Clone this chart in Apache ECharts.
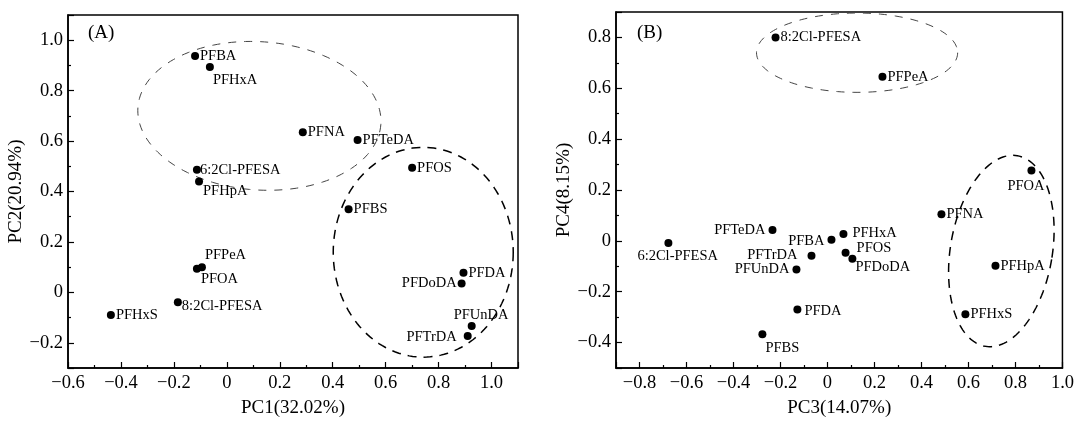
<!DOCTYPE html>
<html>
<head>
<meta charset="utf-8">
<script src="https://cdn.jsdelivr.net/npm/echarts@6/dist/echarts.min.js"></script>
<style>
  html, body { margin: 0; padding: 0; background: #fff; }
  #chart { width: 1077px; height: 423px; }
</style>
</head>
<body>
<div id="chart"></div>
<script>
// panel A: PC1 vs PC2
const namesA = ['PFBA', 'PFHxA', '6:2Cl-PFESA', 'PFHpA', 'PFNA', 'PFTeDA', 'PFOS', 'PFBS',
  'PFDA', 'PFDoDA', 'PFUnDA', 'PFTrDA', 'PFPeA', 'PFOA', '8:2Cl-PFESA', 'PFHxS'];
const pc1 = [-0.12, -0.064, -0.113, -0.105, 0.287, 0.494, 0.70, 0.46,
  0.894, 0.887, 0.925, 0.91, -0.094, -0.113, -0.185, -0.438];
const pc2 = [0.937, 0.894, 0.486, 0.44, 0.635, 0.604, 0.494, 0.33,
  0.078, 0.035, -0.133, -0.173, 0.10, 0.094, -0.039, -0.09];

// panel B: PC3 vs PC4
const namesB = ['8:2Cl-PFESA', 'PFPeA', 'PFOA', 'PFNA', 'PFHpA', 'PFHxS', 'PFHxA', 'PFBA',
  'PFOS', 'PFDoDA', 'PFTrDA', 'PFTeDA', 'PFUnDA', 'PFDA', 'PFBS', '6:2Cl-PFESA'];
const pc3 = [-0.221, 0.234, 0.868, 0.485, 0.715, 0.587, 0.068, 0.017,
  0.077, 0.106, -0.068, -0.234, -0.132, -0.128, -0.277, -0.677];
const pc4 = [0.80, 0.645, 0.277, 0.105, -0.098, -0.289, 0.027, 0.004,
  -0.047, -0.07, -0.059, 0.043, -0.113, -0.27, -0.367, -0.008];

// group ellipses: [cx, cy, rx, ry, tilt deg]
const groupsA = [[0.123, 0.70, 0.46, 0.294, 4], [0.742, 0.159, 0.34, 0.416, 0]];
const groupsB = [[0.126, 0.74, 0.428, 0.156, 0], [0.74, -0.04, 0.217, 0.38, 9.5]];

// label placement: [position, dx, dy]
const labelPosA = {
  'PFBA': ['right', 0, 0], 'PFHxA': ['right', -2, 13], '6:2Cl-PFESA': ['right', -2, 0],
  'PFHpA': ['right', -1, 10], 'PFNA': ['right', 0, 0], 'PFTeDA': ['right', 0, 0],
  'PFOS': ['right', 0, 0], 'PFBS': ['right', 0, 0], 'PFDA': ['right', 0, 0],
  'PFDoDA': ['left', 0, 0], 'PFUnDA': ['right', -23, -11], 'PFTrDA': ['left', -6, 1],
  'PFPeA': ['right', -2, -12], 'PFOA': ['right', -1, 11], '8:2Cl-PFESA': ['right', -1, 4],
  'PFHxS': ['right', 0, 0]
};
const labelPosB = {
  '8:2Cl-PFESA': ['right', 0, 0], 'PFPeA': ['right', 0, 0], 'PFOA': ['right', -29, 16],
  'PFNA': ['right', 0, 0], 'PFHpA': ['right', 0, 0], 'PFHxS': ['right', 0, 0],
  'PFHxA': ['right', 4, -1], 'PFBA': ['left', -2, 1], 'PFOS': ['right', 6, -5],
  'PFDoDA': ['right', -2, 9], 'PFTrDA': ['left', -9, -1], 'PFTeDA': ['left', -2, 0],
  'PFUnDA': ['left', -2, 0], 'PFDA': ['right', 2, 2], 'PFBS': ['right', -2, 14],
  '6:2Cl-PFESA': ['right', -36, 13]
};

const FONT = 'Liberation Serif, Times New Roman, serif';

function fmtTick(v) {
  if (Math.abs(v * 5 - Math.round(v * 5)) > 1e-6) return '';
  if (Math.abs(v) < 1e-9) return '0';
  return (v < 0 ? '\u2212' : '') + Math.abs(v).toFixed(1);
}

function axis(grid, min, max, opts, name, nameGap, isY) {
  return Object.assign({
    type: 'value', gridIndex: grid, min: min, max: max,
    name: name, nameLocation: 'middle', nameGap: nameGap,
    nameTextStyle: { fontFamily: FONT, fontSize: 19, color: '#000' },
    axisLine: { show: true, onZero: false, lineStyle: { color: '#000', width: 1.5 } },
    axisTick: { show: true, inside: true, length: 6, lineStyle: { color: '#000', width: 1.2 } },
    minorTick: { show: true, splitNumber: 2, length: 3, lineStyle: { color: '#000', width: 1.2 } },
    splitLine: { show: false },
    axisLabel: { formatter: fmtTick, fontFamily: FONT, fontSize: 18.5, color: '#000', margin: isY ? 5 : 6 }
  }, opts);
}

function points(names, xs, ys, pos) {
  return xs.map((x, i) => {
    const p = pos[names[i]];
    return { name: names[i], value: [x, ys[i]], label: { position: p[0], offset: [p[1], p[2]] } };
  });
}

function scatter(idx, data) {
  return {
    type: 'scatter', xAxisIndex: idx, yAxisIndex: idx, data: data,
    symbolSize: 8, itemStyle: { color: '#000', opacity: 1 },
    label: { show: true, formatter: '{b}', distance: 1, fontFamily: FONT, fontSize: 14.5, color: '#000' },
    z: 3
  };
}

function ellipse(idx, row, stroke, width, dash) {
  return {
    type: 'custom', xAxisIndex: idx, yAxisIndex: idx, silent: true,
    data: [row], encode: { x: 0, y: 1 },
    renderItem: function (params, api) {
      const c = api.coord([api.value(0), api.value(1)]);
      const s = api.size([api.value(2), api.value(3)], [api.value(0), api.value(1)]);
      const a = api.value(4) * Math.PI / 180;
      const pts = [];
      for (let k = 0; k < 160; k++) {
        const t = k / 160 * Math.PI * 2;
        const ex = s[0] * Math.cos(t), ey = s[1] * Math.sin(t);
        pts.push([c[0] + ex * Math.cos(a) - ey * Math.sin(a), c[1] + ex * Math.sin(a) + ey * Math.cos(a)]);
      }
      return {
        type: 'polygon', shape: { points: pts },
        style: { fill: 'none', stroke: stroke, lineWidth: width, lineDash: dash }
      };
    }
  };
}

const chart = echarts.init(document.getElementById('chart'));
chart.setOption({
  animation: false,
  backgroundColor: '#fff',
  grid: [
    { left: 68, top: 15, width: 450, height: 357, show: true, borderColor: '#000', borderWidth: 1.5 },
    { left: 616, top: 12, width: 449, height: 359, show: true, borderColor: '#000', borderWidth: 1.5 }
  ],
  xAxis: [
    axis(0, -0.6, 1.1, { interval: 0.2 }, 'PC1(32.02%)', 31, false),
    axis(1, -0.9, 1.0, { splitNumber: 9 }, 'PC3(14.07%)', 31, false)
  ],
  yAxis: [
    axis(0, -0.3, 1.1, { splitNumber: 7 }, 'PC2(20.94%)', 42, true),
    axis(1, -0.5, 0.9, { splitNumber: 7 }, 'PC4(8.15%)', 40, true)
  ],
  graphic: [
    { type: 'text', left: 88, top: 24, style: { text: '(A)', fontFamily: FONT, fontSize: 19, fill: '#000' } },
    { type: 'text', left: 637, top: 24, style: { text: '(B)', fontFamily: FONT, fontSize: 19, fill: '#000' } }
  ],
  series: [
    ellipse(0, groupsA[0], '#444', 1, [8, 8]),
    ellipse(0, groupsA[1], '#000', 1.5, [9, 7]),
    ellipse(1, groupsB[0], '#444', 1, [8, 8]),
    ellipse(1, groupsB[1], '#000', 1.5, [9, 7]),
    scatter(0, points(namesA, pc1, pc2, labelPosA)),
    scatter(1, points(namesB, pc3, pc4, labelPosB))
  ]
});
</script>
</body>
</html>
